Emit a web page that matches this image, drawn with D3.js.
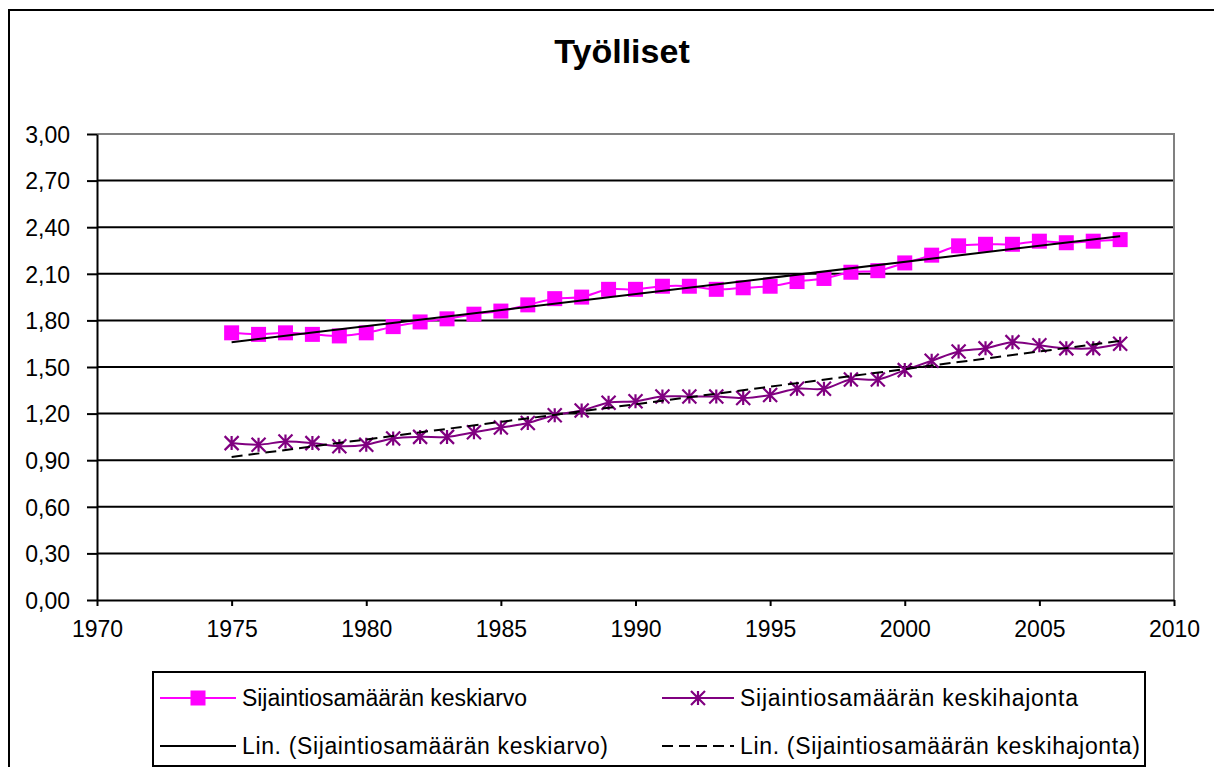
<!DOCTYPE html>
<html>
<head>
<meta charset="utf-8">
<script src="https://cdn.jsdelivr.net/npm/d3@7"></script>
<style>
  html, body { margin: 0; padding: 0; background: #fff; }
  svg { display: block; font-family: "Liberation Sans", Arial, sans-serif; }
</style>
</head>
<body>
<svg id="chart" width="1214" height="767"></svg>
<script>
// Years covered by both series
const years = [1975, 1976, 1977, 1978, 1979, 1980, 1981, 1982, 1983, 1984,
  1985, 1986, 1987, 1988, 1989, 1990, 1991, 1992, 1993, 1994,
  1995, 1996, 1997, 1998, 1999, 2000, 2001, 2002, 2003, 2004,
  2005, 2006, 2007, 2008];

// Mean of the location quotient
const meanValues = [1.72, 1.71, 1.72, 1.71, 1.70, 1.72, 1.76, 1.79, 1.81, 1.84,
  1.86, 1.90, 1.94, 1.95, 2.00, 2.00, 2.02, 2.02, 2.00, 2.01,
  2.02, 2.05, 2.07, 2.11, 2.12, 2.17, 2.22, 2.28, 2.29, 2.29,
  2.31, 2.30, 2.31, 2.32];

// Standard deviation of the location quotient
const sdValues = [1.01, 1.00, 1.02, 1.01, 0.99, 1.00, 1.04, 1.05, 1.05, 1.08,
  1.11, 1.14, 1.19, 1.22, 1.27, 1.28, 1.31, 1.31, 1.31, 1.30,
  1.32, 1.36, 1.36, 1.42, 1.42, 1.48, 1.54, 1.60, 1.62, 1.66,
  1.64, 1.62, 1.62, 1.65];

const yTicks = [0, 0.3, 0.6, 0.9, 1.2, 1.5, 1.8, 2.1, 2.4, 2.7, 3.0];
const xTicks = [1970, 1975, 1980, 1985, 1990, 1995, 2000, 2005, 2010];

const titleText = "Työlliset";
const legendLabels = [
  "Sijaintiosamäärän keskiarvo",
  "Sijaintiosamäärän keskihajonta",
  "Lin. (Sijaintiosamäärän keskiarvo)",
  "Lin. (Sijaintiosamäärän keskihajonta)"
];

const PINK = "#FF00FF";
const PURPLE = "#800080";

const svg = d3.select("#chart");

// Outer chart frame (extends past the right and bottom edges)
svg.append("rect")
  .attr("x", 9).attr("y", 10)
  .attr("width", 1240).attr("height", 800)
  .attr("fill", "#fff").attr("stroke", "#000").attr("stroke-width", 2);

// Title
svg.append("text")
  .attr("x", 622).attr("y", 63)
  .attr("text-anchor", "middle")
  .attr("font-size", 34).attr("font-weight", "bold")
  .text(titleText);

const x = d3.scaleLinear().domain([1970, 2010]).range([97, 1174]);
const y = d3.scaleLinear().domain([0, 3]).range([600, 134]);

const fi = d3.formatLocale({ decimal: ",", thousands: " ", grouping: [3], currency: ["", "€"] });
const fmt = fi.format(".2f");

// Horizontal gridlines
svg.append("g").selectAll("line")
  .data(yTicks.filter(d => d > 0 && d < 3))
  .join("line")
  .attr("x1", x(1970)).attr("x2", x(2010))
  .attr("y1", d => y(d)).attr("y2", d => y(d))
  .attr("stroke", "#000").attr("stroke-width", 2);

// Plot area border (top and right in grey)
svg.append("path")
  .attr("d", `M${x(1970)},${y(3)}H${x(2010)}V${y(0)}`)
  .attr("fill", "none").attr("stroke", "#808080").attr("stroke-width", 2);

// Y axis
const yAxis = svg.append("g")
  .attr("transform", `translate(${x(1970)},0)`)
  .call(d3.axisLeft(y).tickValues(yTicks).tickSize(10).tickSizeOuter(0).tickPadding(17).tickFormat(fmt));
yAxis.select(".domain").attr("stroke", "#000").attr("stroke-width", 2);
yAxis.selectAll(".tick line").attr("stroke", "#000").attr("stroke-width", 2);
yAxis.selectAll(".tick text")
  .attr("font-size", 23).attr("font-family", "Liberation Sans, Arial, sans-serif")
  .attr("fill", "#000").attr("dy", "0.36em");

// X axis
const xAxis = svg.append("g")
  .attr("transform", `translate(0,${y(0)})`)
  .call(d3.axisBottom(x).tickValues(xTicks).tickSize(6).tickSizeOuter(0).tickPadding(15).tickFormat(d3.format("d")));
xAxis.select(".domain").attr("stroke", "#000").attr("stroke-width", 2);
xAxis.selectAll(".tick line").attr("stroke", "#000").attr("stroke-width", 2);
xAxis.selectAll(".tick text")
  .attr("font-size", 23).attr("font-family", "Liberation Sans, Arial, sans-serif")
  .attr("fill", "#000");

const meanData = years.map((yr, i) => ({ yr, v: meanValues[i] }));
const sdData = years.map((yr, i) => ({ yr, v: sdValues[i] }));

const smooth = d3.line().x(d => x(d.yr)).y(d => y(d.v)).curve(d3.curveCatmullRom.alpha(0));

// Least-squares linear trend of a series
function linearFit(data) {
  const n = data.length;
  const mx = d3.mean(data, d => d.yr), my = d3.mean(data, d => d.v);
  const sxy = d3.sum(data, d => (d.yr - mx) * (d.v - my));
  const sxx = d3.sum(data, d => (d.yr - mx) ** 2);
  const b = sxy / sxx, a = my - b * mx;
  const x0 = data[0].yr, x1 = data[n - 1].yr;
  return [{ yr: x0, v: a + b * x0 }, { yr: x1, v: a + b * x1 }];
}

function starPath(r) {
  return `M0,${-r}V${r}M${-r},${-r}L${r},${r}M${-r},${r}L${r},${-r}`;
}

// Mean series
svg.append("path").datum(meanData)
  .attr("d", smooth).attr("fill", "none")
  .attr("stroke", PINK).attr("stroke-width", 2);
svg.append("g").selectAll("rect").data(meanData).join("rect")
  .attr("x", d => x(d.yr) - 7.5).attr("y", d => y(d.v) - 7.5)
  .attr("width", 15).attr("height", 15).attr("fill", PINK);

// Standard deviation series
svg.append("path").datum(sdData)
  .attr("d", smooth).attr("fill", "none")
  .attr("stroke", PURPLE).attr("stroke-width", 2);
svg.append("g").selectAll("path").data(sdData).join("path")
  .attr("transform", d => `translate(${x(d.yr)},${y(d.v)})`)
  .attr("d", starPath(7)).attr("fill", "none")
  .attr("stroke", PURPLE).attr("stroke-width", 2.2);

// Linear trend lines
const straight = d3.line().x(d => x(d.yr)).y(d => y(d.v));
svg.append("path").datum(linearFit(meanData))
  .attr("d", straight).attr("stroke", "#000").attr("stroke-width", 2).attr("fill", "none");
svg.append("path").datum(linearFit(sdData))
  .attr("d", straight).attr("stroke", "#000").attr("stroke-width", 2)
  .attr("stroke-dasharray", "11,6").attr("fill", "none");

// Legend
const legend = svg.append("g");
legend.append("rect")
  .attr("x", 153).attr("y", 672).attr("width", 992).attr("height", 94)
  .attr("fill", "#fff").attr("stroke", "#000").attr("stroke-width", 2);

const legendItems = [
  { label: legendLabels[0], x0: 160, x1: 236, cy: 698, color: PINK, marker: "square", len: 285 },
  { label: legendLabels[1], x0: 662, x1: 734, cy: 698, color: PURPLE, marker: "star", len: 338 },
  { label: legendLabels[2], x0: 160, x1: 236, cy: 746, color: "#000", marker: null, len: 366 },
  { label: legendLabels[3], x0: 662, x1: 734, cy: 746, color: "#000", marker: null, dash: "11,6", len: 400 }
];

legendItems.forEach(it => {
  const g = legend.append("g");
  g.append("line")
    .attr("x1", it.x0).attr("x2", it.x1).attr("y1", it.cy).attr("y2", it.cy)
    .attr("stroke", it.color).attr("stroke-width", 2)
    .attr("stroke-dasharray", it.dash || null);
  const mx = (it.x0 + it.x1) / 2;
  if (it.marker === "square") {
    g.append("rect").attr("x", mx - 7.5).attr("y", it.cy - 7.5)
      .attr("width", 15).attr("height", 15).attr("fill", it.color);
  } else if (it.marker === "star") {
    g.append("path").attr("transform", `translate(${mx},${it.cy})`)
      .attr("d", starPath(7)).attr("fill", "none")
      .attr("stroke", it.color).attr("stroke-width", 2.2);
  }
  g.append("text")
    .attr("x", it.x1 + 6).attr("y", it.cy + 8)
    .attr("font-size", 23)
    .attr("textLength", it.len).attr("lengthAdjust", "spacing")
    .text(it.label);
});
</script>
</body>
</html>
